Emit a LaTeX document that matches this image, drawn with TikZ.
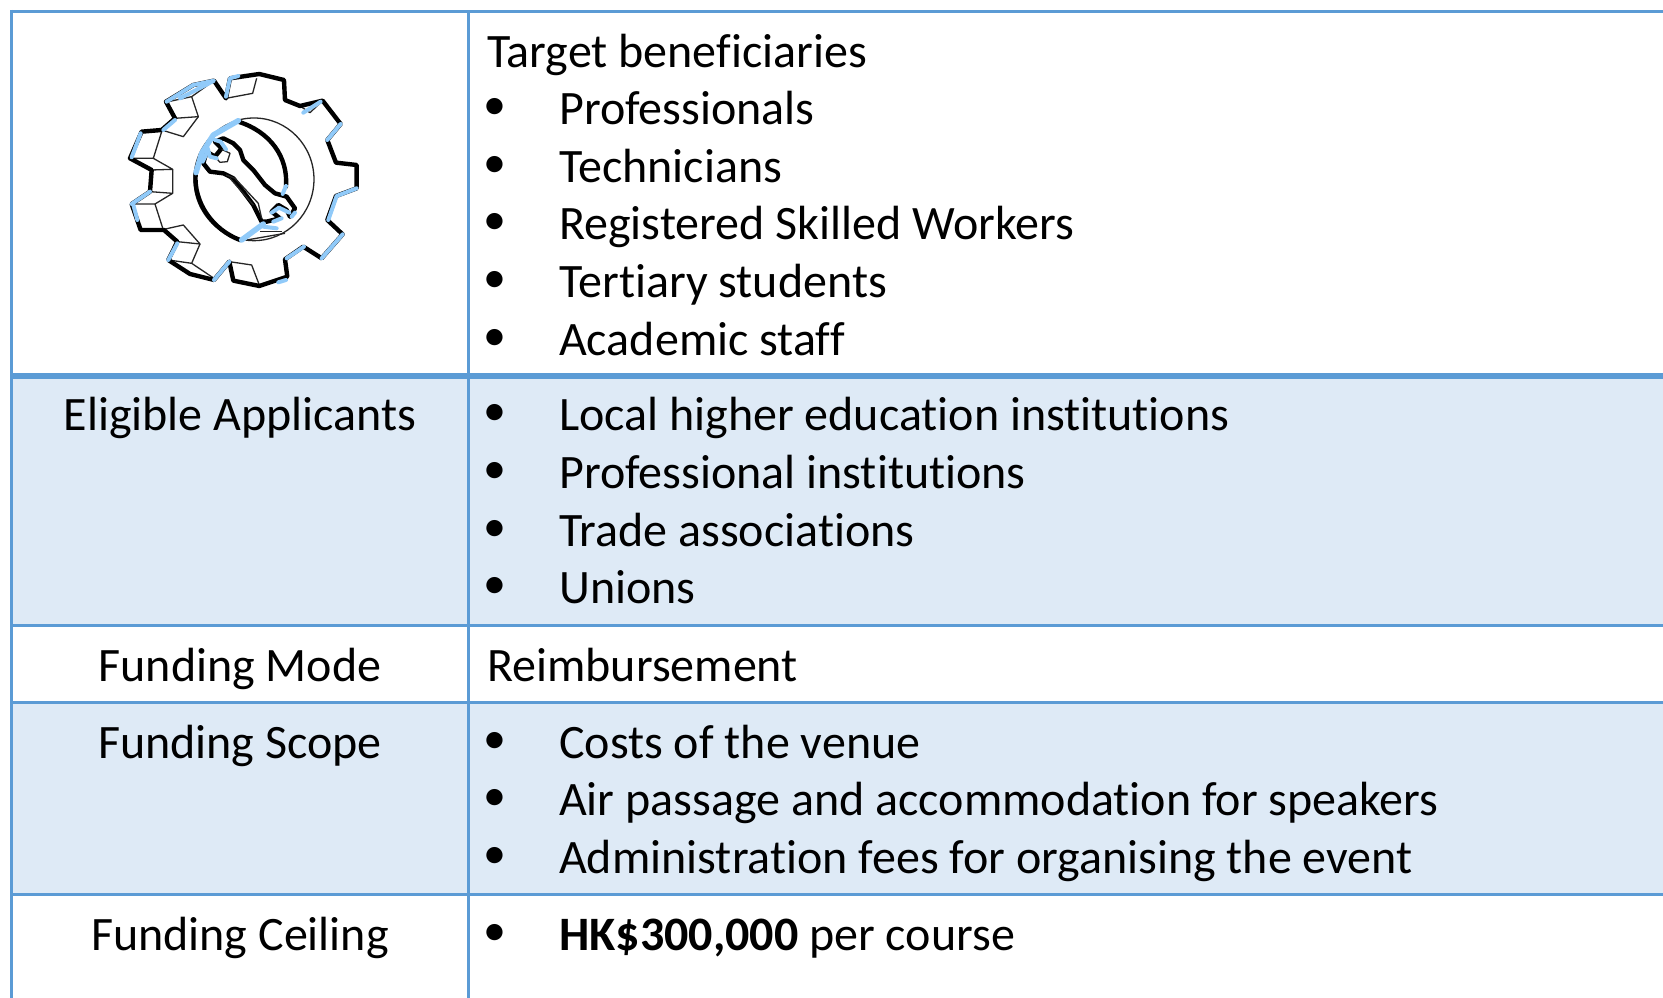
\documentclass[tikz,border=0pt]{standalone}
\usepackage{fontspec}
\setmainfont[Ligatures=CommonOff]{Carlito}
\definecolor{rowfill}{HTML}{DEEAF6}
\definecolor{rule}{HTML}{5B9BD5}
\definecolor{gearblue}{HTML}{90CAF9}
\tikzset{
  rulethin/.style={draw=rule,line width=3pt},
  rulethick/.style={draw=rule,line width=6pt},
  txt/.style={font=\fontsize{48}{52}\selectfont,anchor=base west,inner sep=0pt,text=black},
  lab/.style={font=\fontsize{48}{52}\selectfont,anchor=base,inner sep=0pt,text=black},
  bul/.style={font=\fontsize{46}{46}\selectfont,anchor=center,inner sep=0pt,text=black},
  gearthick/.style={draw=black,line width=4.4pt,line join=round,line cap=round},
  gearthin/.style={draw=black!85,line width=1.3pt,line join=round},
  gearhi/.style={draw=gearblue,line width=4pt,line join=round,line cap=round},
}
\newcommand{\bitem}[3]{%
  \node[bul] (bul#1) at (495,#2-15) {•};
  \node[txt] (item#1) at (559,#2) {#3};
}
\begin{document}
\begin{tikzpicture}[x=1pt,y=-1pt]
\useasboundingbox (0,0) rectangle (1663,998);
\fill[white] (0,0) rectangle (1663,998);
% shaded rows
\fill[rowfill] (11.5,376) rectangle (1663,625.5);
\fill[rowfill] (11.5,702) rectangle (1663,894);
% rules
\draw[rulethin] (10,11.5) -- (1663,11.5);
\draw[rulethin] (11.5,10) -- (11.5,998);
\draw[rulethin] (468,11.5) -- (468,998);
\draw[rulethin] (11.5,625.5) -- (1663,625.5);
\draw[rulethin] (11.5,702) -- (1663,702);
\draw[rulethin] (11.5,894) -- (1663,894);
\draw[rulethick] (11.5,375.5) -- (1663,375.5);
% left labels
\node[lab] (eligible) at (240,430) {Eligible Applicants};
\node[lab] (fmode) at (240,681) {Funding Mode};
\node[lab] (fscope) at (240,758) {Funding Scope};
\node[lab] (fceil) at (240,950) {Funding Ceiling};
% right column
\node[txt] (target) at (487,67) {Target beneficiaries};
\bitem{a}{124}{Professionals}
\bitem{b}{182}{Technicians}
\bitem{c}{239}{Registered Skilled Workers}
\bitem{d}{297}{Tertiary students}
\bitem{e}{355}{Academic staff}
\bitem{f}{430}{Local higher education institutions}
\bitem{g}{488}{Professional institutions}
\bitem{h}{546}{Trade associations}
\bitem{i}{603}{Unions}
\node[txt] (reimb) at (487,681) {Reimbursement};
\bitem{j}{758}{Costs of the venue}
\bitem{k}{815}{Air passage and accommodation for speakers}
\bitem{l}{873}{Administration fees for organising the event}
\bitem{m}{950}{\textbf{HK\$300,000} per course}
% gear icon
\begin{scope}[shift={(100,50)},x=0.3333pt,y=-0.3333pt]
 % tooth side faces
 \draw[gearthin] (470,85) -- (458,130) -- (378,145);
 \draw[gearthin] (342,92) -- (275,140) -- (295,200) -- (225,205);
 \draw[gearthin] (275,140) -- (205,155);
 \draw[gearthin] (185,240) -- (250,260) -- (295,200);
 \draw[gearthin] (90,325) -- (160,325) -- (185,245);
 \draw[gearthin] (160,325) -- (218,358) -- (155,360);
 \draw[gearthin] (218,358) -- (218,430) -- (150,425);
 \draw[gearthin] (218,430) -- (165,462) -- (95,462);
 \draw[gearthin] (165,462) -- (190,540);
 \draw[gearthin] (192,538) -- (250,525) -- (300,582) -- (232,575);
 \draw[gearthin] (300,582) -- (275,640) -- (205,630);
 \draw[gearthin] (275,640) -- (342,685);
 \draw[gearthin] (388,635) -- (455,645) -- (478,705);
 \draw[gearthin] (600,168) -- (630,188) -- (668,152);
 \draw[gearthin] (610,590) -- (665,620);
 % outline
 \draw[gearthick] (378,145) -- (390,85) -- (478,72) -- (552,90) -- (555,150) -- (600,168)
   -- (668,152) -- (722,222) -- (682,270) -- (708,338) -- (770,345) -- (770,415) -- (708,438)
   -- (682,510) -- (728,553) -- (665,625) -- (610,590) -- (555,628) -- (562,680) -- (478,708)
   -- (400,692) -- (388,635) -- (342,690) -- (270,672) -- (205,630) -- (232,575) -- (192,540)
   -- (122,540) -- (95,462) -- (150,425) -- (155,360) -- (90,325) -- (125,245) -- (185,240)
   -- (225,205) -- (198,155) -- (280,105) -- (342,92) -- cycle;
 % hub
 \draw[gearthin] (462,388) ellipse [x radius=180,y radius=184];
 \draw[gearthick] (415,215) .. controls (510,245) and (565,320) .. (558,410);
 \draw[gearthick] (287,370) .. controls (280,460) and (340,540) .. (420,570);
 % spanner
 \draw[gearthick] (345,275) -- (370,265) -- (400,280) -- (420,300) -- (430,330) -- (460,360)
   -- (495,405) -- (525,430) -- (560,440) -- (585,475) -- (570,500) -- (560,480) -- (535,465)
   -- (515,485) -- (540,505) -- (500,515) -- (485,515) -- (460,465) -- (400,385) -- (370,370)
   -- (330,365) -- (310,340) -- (320,305) -- (345,320) -- (365,295) -- cycle;
 \draw[gearthin] (365,298) -- (390,310) -- (382,335) -- (360,337) -- (345,320);
 \draw[gearthin] (378,375) -- (405,385) -- (475,460) -- (485,505);
 \draw[gearthin] (390,385) -- (460,465);
 \draw[gearthin] (440,570) -- (555,550);
 \draw[gearthin] (480,545) -- (545,545);
 % highlights
 \draw[gearhi] (200,155) -- (280,105) -- (342,92) -- (240,145);
 \draw[gearhi] (378,140) -- (390,85) -- (415,78);
 \draw[gearhi] (225,210) -- (190,240);
 \draw[gearhi] (95,322) -- (122,250);
 \draw[gearhi] (95,462) -- (150,425);
 \draw[gearhi] (100,465) -- (112,510);
 \draw[gearhi] (610,188) -- (662,155);
 \draw[gearhi] (722,222) -- (682,270);
 \draw[gearhi] (770,415) -- (710,438) -- (685,510);
 \draw[gearhi] (728,553) -- (665,625);
 \draw[gearhi] (612,590) -- (560,625);
 \draw[gearhi] (558,690) -- (535,697);
 \draw[gearhi] (388,635) -- (342,690);
 \draw[gearhi] (232,580) -- (205,630);
 \draw[gearhi,line width=5.5pt] (415,212) -- (340,255) -- (305,310) -- (288,368);
 \draw[gearhi,line width=5.5pt] (425,570) -- (490,522);
 \draw[gearhi] (490,530) -- (530,535);
 \draw[gearhi] (558,408) -- (548,432);
 \draw[gearhi] (320,285) -- (330,320) -- (350,325);
 \draw[gearhi] (345,270) -- (362,275) -- (378,298);
 \draw[gearhi] (308,335) -- (325,300);
 \draw[gearhi] (515,488) -- (537,473) -- (568,488);
 \draw[gearhi] (520,515) -- (545,505);
 \draw[gearhi] (585,488) -- (575,500);
\end{scope}
\end{tikzpicture}
\end{document}
